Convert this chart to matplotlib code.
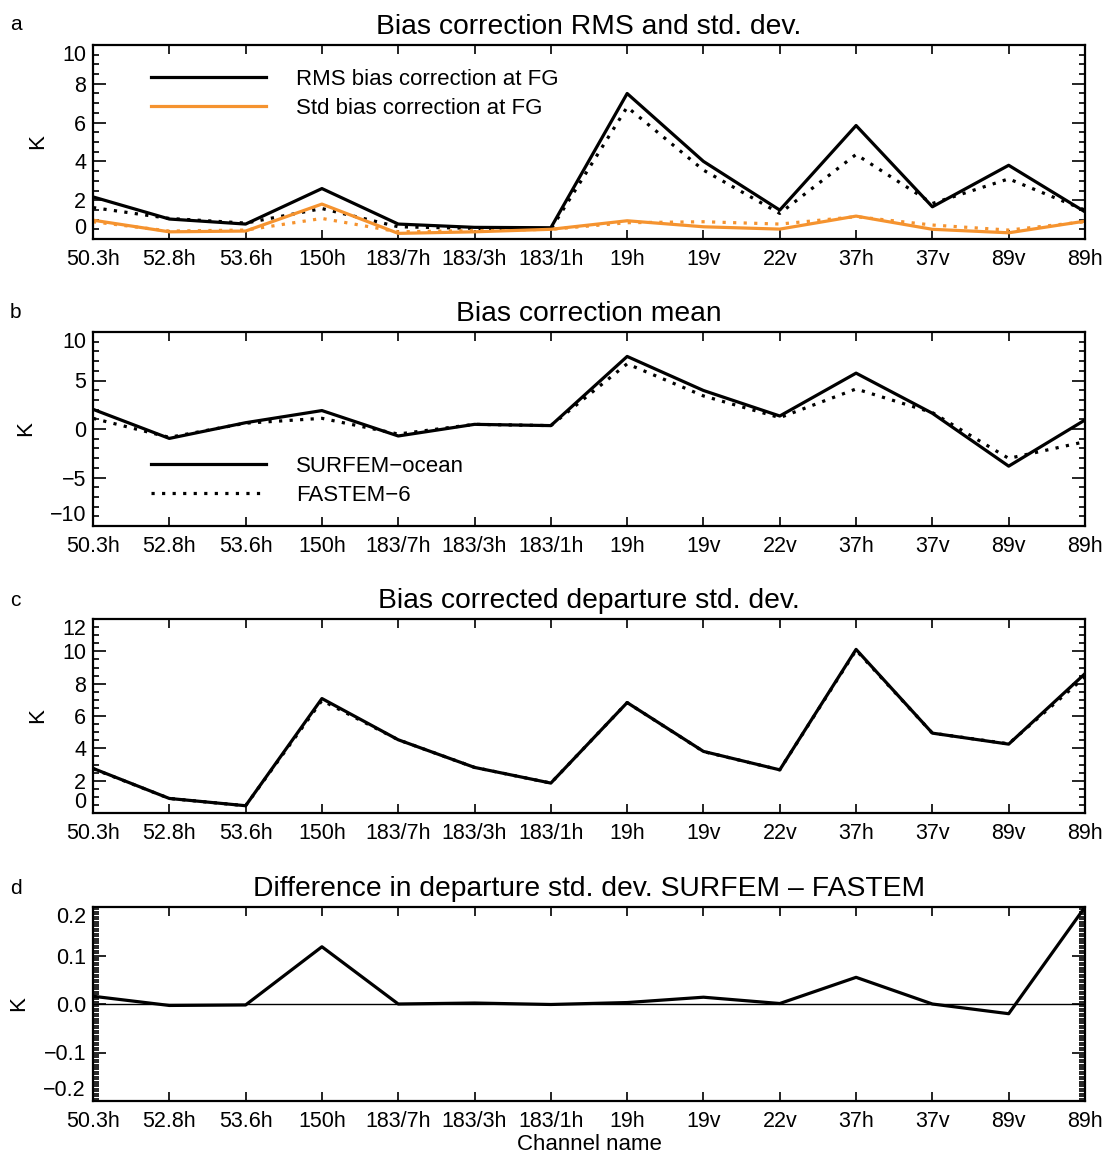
import numpy as np
import matplotlib
matplotlib.use('Agg')
import matplotlib.pyplot as plt
from matplotlib.lines import Line2D

plt.rcParams['font.family'] = ['Liberation Sans', 'DejaVu Sans']

### channel names ###
channels = ['50.3h', '52.8h', '53.6h', '150h', '183/7h', '183/3h', '183/1h',
            '19h', '19v', '22v', '37h', '37v', '89v', '89h']

# a: RMS / std of bias correction at FG (solid = SURFEM-ocean, dotted = FASTEM-6)
rms_surfem = [2.17, 1.03, 0.77, 2.6, 0.77, 0.6, 0.58, 7.5, 4.0, 1.49, 5.85, 1.66, 3.8, 1.4]
rms_fastem = [1.62, 1.06, 0.82, 1.57, 0.63, 0.55, 0.5, 6.8, 3.55, 1.32, 4.36, 1.83, 3.1, 1.49]
std_surfem = [0.97, 0.37, 0.41, 1.8, 0.29, 0.37, 0.5, 0.94, 0.63, 0.51, 1.18, 0.5, 0.32, 0.92]
std_fastem = [0.89, 0.41, 0.46, 1.06, 0.37, 0.43, 0.5, 0.84, 0.89, 0.77, 1.15, 0.72, 0.46, 0.89]

# b: bias correction mean
mean_surfem = [2.03, -0.97, 0.65, 1.9, -0.72, 0.48, 0.35, 7.48, 3.97, 1.34, 5.76, 1.62, -3.83, 0.93]
mean_fastem = [1.1, -0.86, 0.6, 1.1, -0.52, 0.48, 0.35, 6.72, 3.41, 1.17, 4.13, 1.69, -3.03, -1.31]

# c: bias corrected departure std dev
dep_surfem = [2.76, 0.9, 0.45, 7.08, 4.53, 2.82, 1.85, 6.83, 3.81, 2.67, 10.12, 4.94, 4.26, 8.62]
dep_fastem = [2.74, 0.9, 0.45, 6.96, 4.53, 2.82, 1.85, 6.83, 3.8, 2.67, 10.07, 4.94, 4.28, 8.42]

# d: SURFEM - FASTEM
dep_diff = [0.016, -0.003, -0.002, 0.118, 0.0, 0.002, -0.001, 0.003, 0.014, 0.001, 0.055, 0.0, -0.02, 0.2]

orange = '#F5932F'
lw = 2.3
dots = (0, (1, 2.3))

fig = plt.figure(figsize=(11.07, 11.55), dpi=100)
L, W, H = 93/1107, 992/1107, 194/1155
bottoms = [(1155-239)/1155, (1155-526)/1155, (1155-813)/1155, (1155-1101)/1155]
axes = [fig.add_axes([L, b, W, H]) for b in bottoms]
x = np.arange(len(channels))


def style(ax, ylim, major, minor, fmt='%g'):
    ax.set_xlim(0, len(channels) - 1)
    ax.set_ylim(*ylim)
    ax.set_xticks(x)
    ax.set_xticklabels(channels)
    yt = np.linspace(ylim[0], ylim[1], int(round((ylim[1] - ylim[0]) / major)) + 1)
    ax.set_yticks(yt)
    ax.set_yticklabels([(fmt % v).replace('-', '\u2212') for v in yt])
    ax.set_yticks(np.linspace(ylim[0], ylim[1], int(round((ylim[1] - ylim[0]) / minor)) + 1),
                  minor=True)
    ax.tick_params(axis='both', which='both', direction='in', top=True, right=True,
                   labelsize=15.5, width=1.2)
    ax.tick_params(axis='x', which='major', length=6.5, pad=7)
    ax.tick_params(axis='y', which='major', length=9.5, pad=5)
    ax.tick_params(axis='y', which='minor', length=4.5)
    for s in ax.spines.values():
        s.set_linewidth(1.6)
    ax.set_ylabel('K', fontsize=16, labelpad=10)
    # keep end labels inside the axis range
    labs = ax.get_yticklabels()
    labs[0].set_va('bottom')
    labs[-1].set_va('top')


leg_kw = dict(loc='upper left', frameon=False, fontsize=16, handlelength=5.2,
              handletextpad=1.35, labelspacing=0.36, borderpad=0, borderaxespad=0)

# a
ax = axes[0]
ax.plot(x, rms_fastem, color='k', lw=lw, ls=dots)
ax.plot(x, std_fastem, color=orange, lw=lw, ls=dots)
ax.plot(x, rms_surfem, color='k', lw=lw)
ax.plot(x, std_surfem, color=orange, lw=lw)
style(ax, (0, 10), 2, 0.5)
ax.set_title('Bias correction RMS and std. dev.', fontsize=20.3, pad=8)
ax.legend([Line2D([], [], color='k', lw=lw), Line2D([], [], color=orange, lw=lw)],
          ['RMS bias correction at FG', 'Std bias correction at FG'],
          bbox_to_anchor=(0.058, 0.875), **leg_kw)

# b
ax = axes[1]
ax.plot(x, mean_fastem, color='k', lw=lw, ls=dots)
ax.plot(x, mean_surfem, color='k', lw=lw)
style(ax, (-10, 10), 5, 1)
ax.set_title('Bias correction mean', fontsize=20.3, pad=8)
ax.legend([Line2D([], [], color='k', lw=lw), Line2D([], [], color='k', lw=lw, ls=dots)],
          ['SURFEM\u2212ocean', 'FASTEM\u22126'],
          bbox_to_anchor=(0.058, 0.362), **leg_kw)

# c
ax = axes[2]
ax.plot(x, dep_fastem, color='k', lw=lw, ls=dots)
ax.plot(x, dep_surfem, color='k', lw=lw)
style(ax, (0, 12), 2, 0.5)
ax.set_title('Bias corrected departure std. dev.', fontsize=20.3, pad=8)

# d
ax = axes[3]
ax.axhline(0, color='k', lw=1)
ax.plot(x, dep_diff, color='k', lw=lw)
style(ax, (-0.2, 0.2), 0.1, 0.005, fmt='%.1f')
ax.set_title('Difference in departure std. dev. SURFEM \u2013 FASTEM', fontsize=20.3, pad=8)
ax.set_xlabel('Channel name', fontsize=16, labelpad=1.5)

# panel letters
for lab, yy in zip('abcd', [24, 312, 601, 888]):
    fig.text(10/1107, 1 - yy/1155, lab, fontsize=15, va='center')

fig.savefig('out.png', dpi=100)
